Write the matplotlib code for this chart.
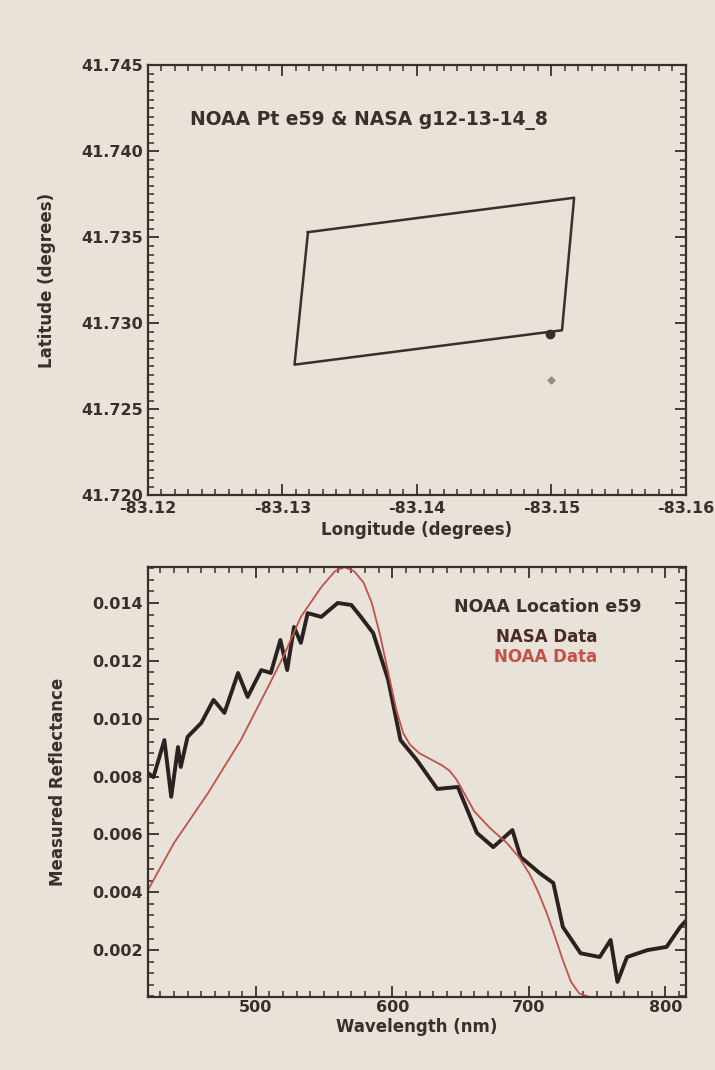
import matplotlib.pyplot as plt
from matplotlib.ticker import AutoMinorLocator, FixedLocator

# footprint polygon (lon, lat), closed
box_lon = [-83.1319, -83.1517, -83.1508, -83.1309, -83.1319]
box_lat = [41.7353, 41.7373, 41.7296, 41.7276, 41.7353]
nasa_pt = (-83.1499, 41.7294)
noaa_pt = (-83.1500, 41.7267)

lon_ticks = [-83.12, -83.13, -83.14, -83.15, -83.16]
lon_labels = ['-83.12', '-83.13', '-83.14', '-83.15', '-83.16']
lat_ticks = [41.720, 41.725, 41.730, 41.735, 41.740, 41.745]

# NASA spectrum (black)
nasa_wl = [421, 425, 433, 438, 443, 445, 450, 460, 469, 477, 487, 494, 504, 511,
           518, 523, 528, 533, 538, 548, 560, 570, 577, 586, 597, 606, 618, 633,
           648, 662, 674, 688, 694, 708, 718, 725, 738, 752, 760, 765, 772, 787,
           801, 811, 815]
nasa_refl = [0.00812, 0.00798, 0.00926, 0.0073, 0.00902, 0.00833, 0.00937, 0.00985,
             0.01065, 0.0102, 0.01158, 0.01075, 0.01168, 0.01158, 0.01272, 0.01168,
             0.01317, 0.01262, 0.01365, 0.01352, 0.0140, 0.01393, 0.01352, 0.01296,
             0.01134, 0.00926, 0.00857, 0.00757, 0.00764, 0.00605, 0.00556, 0.00615,
             0.00522, 0.00466, 0.00432, 0.0028, 0.00189, 0.00176, 0.00235, 0.0009,
             0.00176, 0.0020, 0.00211, 0.0028, 0.0030]

# NOAA spectrum (red)
noaa_wl = [421, 440, 465, 489, 509, 520, 533, 548, 558, 565, 572, 579, 585, 591,
           597, 603, 608, 613, 620, 628, 636, 642, 647, 653, 660, 672, 684, 693,
           701, 707, 713, 719, 725, 731, 737, 745, 770, 800, 815]
noaa_refl = [0.00408, 0.0057, 0.00743, 0.00926, 0.0111, 0.01213, 0.01352, 0.01455,
             0.0151, 0.01524, 0.0151, 0.0147, 0.0140, 0.0129, 0.0116, 0.0103,
             0.0095, 0.0091, 0.0088, 0.0086, 0.0084, 0.0082, 0.0079, 0.0074,
             0.0068, 0.0062, 0.0057, 0.0052, 0.0046, 0.0040, 0.0033, 0.0025,
             0.00165, 0.0009, 0.0005, 0.00037, 0.00037, 0.00037, 0.00037]

wl_ticks = [500, 600, 700, 800]
refl_ticks = [0.002, 0.004, 0.006, 0.008, 0.010, 0.012, 0.014]

ink = '#3a2f2a'
red = '#c2524a'
bg = '#e8e2d9'

plt.rcParams['font.family'] = 'DejaVu Sans'
plt.rcParams['font.weight'] = 'bold'
plt.rcParams['axes.labelweight'] = 'bold'

fig = plt.figure(figsize=(7.15, 10.7), dpi=100, facecolor=bg)


def style(ax):
    ax.set_facecolor(bg)
    for s in ax.spines.values():
        s.set_color(ink)
        s.set_linewidth(1.6)
    ax.tick_params(which='both', direction='in', top=True, right=True,
                   colors=ink, labelsize=11.5)
    ax.tick_params(which='major', length=8, width=1.3)
    ax.tick_params(which='minor', length=4, width=1.1)
    ax.tick_params(axis='x', pad=2)


# top: location map
ax1 = fig.add_axes([0.207, 0.537, 0.752, 0.402])
style(ax1)
ax1.plot(box_lon, box_lat, color=ink, lw=1.8)
ax1.plot(*nasa_pt, 'o', color=ink, ms=6)
ax1.plot(*noaa_pt, 'D', color='#968a83', ms=3.5)
ax1.set_xlim(-83.12, -83.16)
ax1.set_ylim(41.720, 41.745)
ax1.xaxis.set_major_locator(FixedLocator(lon_ticks))
ax1.set_xticklabels(lon_labels)
ax1.yaxis.set_major_locator(FixedLocator(lat_ticks))
ax1.set_yticklabels([f'{v:.3f}' for v in lat_ticks])
ax1.xaxis.set_minor_locator(AutoMinorLocator(10))
ax1.yaxis.set_minor_locator(AutoMinorLocator(10))
ax1.tick_params(axis='x', pad=4)
ax1.set_xlabel('Longitude (degrees)', color=ink, fontsize=12, va='center')
ax1.xaxis.set_label_coords(0.5, -0.08)
ax1.set_ylabel('Latitude (degrees)', color=ink, fontsize=12, va='center')
ax1.yaxis.set_label_coords(-0.188, 0.5)
ax1.text(0.078, 0.872, 'NOAA Pt e59 & NASA g12-13-14_8', transform=ax1.transAxes,
         color=ink, fontsize=13.5, va='center')

# bottom: spectra
ax2 = fig.add_axes([0.207, 0.068, 0.752, 0.402])
style(ax2)
ax2.plot(nasa_wl, nasa_refl, color='#2a2220', lw=2.8)
ax2.plot(noaa_wl, noaa_refl, color=red, lw=1.3)
ax2.set_xlim(421, 815)
ax2.set_ylim(0.00037, 0.01524)
ax2.xaxis.set_major_locator(FixedLocator(wl_ticks))
ax2.yaxis.set_major_locator(FixedLocator(refl_ticks))
ax2.set_yticklabels([f'{v:.3f}' for v in refl_ticks])
ax2.xaxis.set_minor_locator(AutoMinorLocator(10))
ax2.yaxis.set_minor_locator(AutoMinorLocator(5))
ax2.set_xlabel('Wavelength (nm)', color=ink, fontsize=12, va='center')
ax2.xaxis.set_label_coords(0.5, -0.07)
ax2.set_ylabel('Measured Reflectance', color=ink, fontsize=12, va='center')
ax2.yaxis.set_label_coords(-0.167, 0.5)
ax2.text(0.918, 0.907, 'NOAA Location e59', transform=ax2.transAxes,
         color=ink, fontsize=12.5, ha='right', va='center')
ax2.text(0.836, 0.837, 'NASA Data', transform=ax2.transAxes,
         color='#4a2a26', fontsize=12, ha='right', va='center')
ax2.text(0.836, 0.791, 'NOAA Data', transform=ax2.transAxes,
         color=red, fontsize=12, ha='right', va='center')

fig.savefig('out.png', dpi=100, facecolor=bg)
